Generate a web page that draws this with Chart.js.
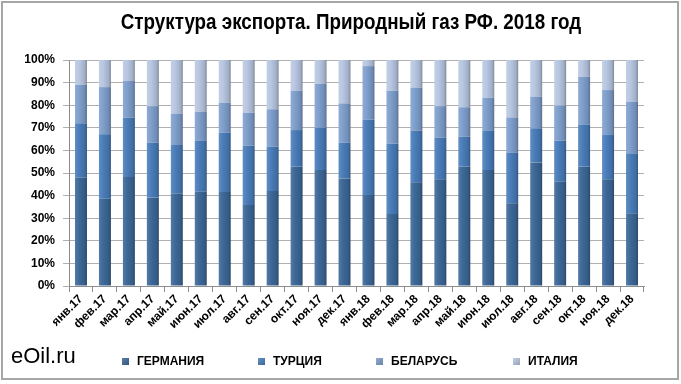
<!DOCTYPE html>
<html>
<head>
<meta charset="utf-8">
<script src="https://cdn.jsdelivr.net/npm/chart.js@4.4.1/dist/chart.umd.min.js"></script>
<style>
  html, body { margin: 0; padding: 0; background: #ffffff; }
  #wrap { position: relative; width: 681px; height: 384px; }
  canvas { display: block; }
</style>
</head>
<body>
<div id="wrap"><canvas id="c" width="681" height="384"></canvas></div>
<script>
// ---- data (percent shares, 100% stacked) ----
const categories = ['янв.17','фев.17','мар.17','апр.17','май.17','июн.17','июл.17','авг.17','сен.17','окт.17','ноя.17','дек.17',
                    'янв.18','фев.18','мар.18','апр.18','май.18','июн.18','июл.18','авг.18','сен.18','окт.18','ноя.18','дек.18'];
const germany = [48.0, 38.6, 48.2, 39.1, 40.9, 41.7, 41.6, 35.8, 42.0, 52.8, 51.3, 47.6,
                 40.3, 31.9, 45.9, 47.2, 52.8, 51.3, 36.6, 54.7, 46.2, 52.8, 47.2, 32.2];
const turkey  = [24.0, 28.5, 26.3, 24.3, 21.5, 22.5, 26.2, 26.3, 19.7, 16.2, 18.7, 15.8,
                 33.4, 31.2, 22.8, 18.4, 13.3, 17.3, 22.5, 15.1, 18.1, 18.7, 19.6, 26.5];
const belarus = [17.0, 20.9, 16.2, 16.2, 13.9, 12.8, 13.3, 14.6, 16.5, 17.4, 19.4, 17.4,
                 23.6, 23.3, 19.1, 14.0, 13.0, 14.7, 15.5, 14.0, 15.5, 21.1, 19.9, 22.9];
const italy   = [11.0, 12.0,  9.3, 20.4, 23.7, 23.0, 18.9, 23.3, 21.8, 13.6, 10.6, 19.2,
                  2.7, 13.6, 12.2, 20.4, 20.9, 16.7, 25.4, 16.2, 20.2,  7.4, 13.3, 18.4];
const seriesNames = ['ГЕРМАНИЯ', 'ТУРЦИЯ', 'БЕЛАРУСЬ', 'ИТАЛИЯ'];
const yTickValues = [0, 10, 20, 30, 40, 50, 60, 70, 80, 90, 100];
const titleText = 'Структура экспорта. Природный газ РФ. 2018 год';
const brandText = 'eOil.ru';

// ---- styles ----
const baseColors = ['#3d6898', '#4a7dba', '#7f9fcd', '#b8c7e2'];

function shade(hex, amt) {
  const n = parseInt(hex.slice(1), 16);
  let r = (n >> 16) & 255, g = (n >> 8) & 255, b = n & 255;
  if (amt >= 0) { r += (255 - r) * amt; g += (255 - g) * amt; b += (255 - b) * amt; }
  else { r *= (1 + amt); g *= (1 + amt); b *= (1 + amt); }
  return 'rgb(' + Math.round(r) + ',' + Math.round(g) + ',' + Math.round(b) + ')';
}

function barFill(idx) {
  const base = baseColors[idx];
  return function (ctx) {
    const chart = ctx.chart;
    const xs = chart.scales && chart.scales.x;
    if (!xs || ctx.dataIndex === undefined || !isFinite(xs.getPixelForValue(ctx.dataIndex))) return base;
    const cx = xs.getPixelForValue(ctx.dataIndex);
    const w = xs.width / categories.length * 0.5;
    const g = chart.ctx.createLinearGradient(cx - w / 2, 0, cx + w / 2, 0);
    g.addColorStop(0, shade(base, 0.12));
    g.addColorStop(0.35, base);
    g.addColorStop(0.8, shade(base, -0.12));
    g.addColorStop(1, shade(base, -0.3));
    return g;
  };
}

const decor = {
  id: 'decor',
  beforeDraw(chart) {
    const c = chart.ctx;
    c.save();
    c.fillStyle = '#ffffff';
    c.fillRect(0, 0, chart.width, chart.height);
    c.restore();
  },
  afterDraw(chart) {
    const c = chart.ctx;
    c.save();
    // outer frame
    c.strokeStyle = '#a6a6a6';
    c.lineWidth = 2;
    c.strokeRect(2, 2, 676, 377);
    // title (condensed bold)
    c.fillStyle = '#000000';
    c.textAlign = 'center';
    c.textBaseline = 'middle';
    c.font = "bold 22px 'Liberation Sans', Arial, sans-serif";
    c.save();
    c.translate(351, 23);
    c.scale(0.855, 1);
    c.fillText(titleText, 0, 0);
    c.restore();
    // brand
    c.textAlign = 'left';
    c.textBaseline = 'alphabetic';
    c.font = "22px 'Liberation Sans', Arial, sans-serif";
    c.fillText(brandText, 11, 363);
    // legend
    const textX = [137, 273, 391, 528];
    const ly = 362;
    c.font = "bold 12px 'Liberation Sans', Arial, sans-serif";
    c.textBaseline = 'middle';
    for (let i = 0; i < seriesNames.length; i++) {
      const bx = textX[i] - 15;
      const g = c.createLinearGradient(bx, ly - 4, bx + 7, ly + 4);
      g.addColorStop(0, shade(baseColors[i], 0.15));
      g.addColorStop(1, shade(baseColors[i], -0.2));
      c.fillStyle = g;
      c.fillRect(bx, ly - 4, 7, 7);
      c.fillStyle = '#000000';
      c.fillText(seriesNames[i], textX[i], ly);
    }
    c.restore();
  }
};

const datasets = [germany, turkey, belarus, italy].map((arr, i) => ({
  label: seriesNames[i],
  data: arr,
  backgroundColor: barFill(i),
  borderWidth: 0,
  barPercentage: 0.5,
  categoryPercentage: 1.0,
  stack: 's'
}));

new Chart(document.getElementById('c'), {
  type: 'bar',
  data: { labels: categories, datasets: datasets },
  options: {
    responsive: false,
    animation: false,
    devicePixelRatio: 1,
    layout: { padding: { top: 60, left: 0, right: 37, bottom: 0 } },
    plugins: {
      legend: { display: false },
      title: { display: false },
      tooltip: { enabled: false }
    },
    scales: {
      x: {
        stacked: true,
        offset: true,
        afterFit(scale) { scale.height = 98; },
        grid: { display: true, drawOnChartArea: false, drawTicks: true, tickLength: 6, color: '#8c8c8c', offset: true },
        border: { display: true, color: '#8c8c8c' },
        ticks: {
          autoSkip: false, maxRotation: 45, minRotation: 45, padding: 0,
          color: '#000000',
          font: { family: "'Liberation Sans', Arial, sans-serif", size: 12, weight: 'bold' }
        }
      },
      y: {
        stacked: true,
        min: 0, max: 100,
        afterFit(scale) { scale.width = 69; },
        afterBuildTicks(scale) { scale.ticks = yTickValues.map(v => ({ value: v })); },
        grid: { color: '#b0b0b0', tickLength: 6, drawTicks: true },
        border: { display: true, color: '#8c8c8c' },
        ticks: {
          padding: 8,
          color: '#000000',
          font: { family: "'Liberation Sans', Arial, sans-serif", size: 12, weight: 'bold' },
          callback: v => v + '%'
        }
      }
    }
  },
  plugins: [decor]
});
</script>
</body>
</html>
